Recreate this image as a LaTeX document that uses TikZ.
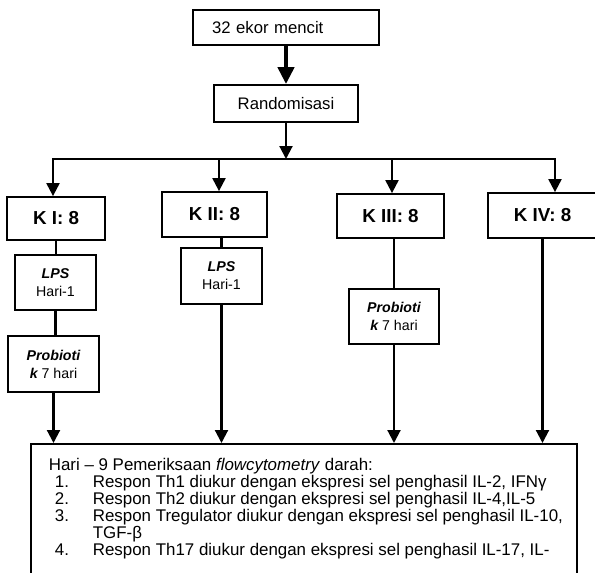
\documentclass[tikz,border=0pt]{standalone}
\usepackage{fontspec}
\setmainfont{Liberation Sans}
\usetikzlibrary{arrows.meta}
\newcommand\fsz[2]{\fontsize{#1}{#2}\selectfont}
\begin{document}
\begin{tikzpicture}[x=1pt,y=-1pt,
  box/.style={draw, line width=1.8pt, inner sep=0pt, align=center},
  conn/.style={line width=2.1pt},
  arr/.style={line width=2.1pt, -{Triangle[width=13pt,length=13pt]}},
  thickarr/.style={line width=4.5pt, -{Triangle[width=16pt,length=17pt]}},
  kbox/.style={box, font=\bfseries\fsz{18.8}{22}},
  sbox/.style={box, font=\fsz{14.2}{18}}]
\path[use as bounding box, clip] (0,0) rectangle (595,573);
\fill[white] (0,0) rectangle (595,573);
% top
\node[box, minimum width=186pt, minimum height=35pt, text width=148pt, inner xsep=19pt, align=left, font=\fsz{16.7}{20}] (top) at (286,27.5) {32 ekor mencit};
\node[box, minimum width=144pt, minimum height=37pt, font=\fsz{16.7}{20}] (rand) at (286,103.5) {Randomisasi};
\draw[thickarr] (top.south) -- (rand.north);
% bar
\coordinate (hub) at (286,159);
\coordinate (b1) at (53,159);
\coordinate (b2) at (219,159);
\coordinate (b3) at (392,159);
\coordinate (b4) at (555,159);
\draw[conn, line cap=rect] (b1) -- (b4);
\draw[arr] (rand.south) -- (hub);
% groups
\node[kbox, minimum width=98pt, minimum height=43pt] (k1) at (56,218.5) {K I: 8};
\node[kbox, minimum width=105pt, minimum height=45pt] (k2) at (214.5,214.5) {K II: 8};
\node[kbox, minimum width=107pt, minimum height=44pt] (k3) at (390.5,216) {K III: 8};
\node[kbox, minimum width=109pt, minimum height=45pt] (k4) at (542.5,215.5) {K IV: 8};
\draw[arr] (b1) -- (b1 |- k1.north);
\draw[arr] (b2) -- (b2 |- k2.north);
\draw[arr] (b3) -- (b3 |- k3.north);
\draw[arr] (b4) -- (b4 |- k4.north);
% treatments
\node[sbox, minimum width=81pt, minimum height=55pt] (lps1) at (55.5,282.5) {{\bfseries\itshape LPS}\\Hari-1};
\node[sbox, minimum width=91pt, minimum height=56pt] (prob1) at (53.5,364) {{\bfseries\itshape Probioti}\\{\bfseries\itshape k} 7 hari};
\node[sbox, minimum width=81pt, minimum height=56pt] (lps2) at (221.5,276) {{\bfseries\itshape LPS}\\Hari-1};
\node[sbox, minimum width=90pt, minimum height=55pt] (prob3) at (394,316.5) {{\bfseries\itshape Probioti}\\{\bfseries\itshape k} 7 hari};
% result box
\node[box, anchor=north west, inner xsep=18pt, inner ysep=0pt, align=left, font=\fsz{16.9}{17.1}] (res) at (30,443) {\parbox[t][157pt][t]{510pt}{\vspace*{14pt}%
\mbox{Hari – 9 Pemeriksaan \textit{flowcytometry} darah:}\\
\mbox{\hspace*{6pt}\makebox[38pt][l]{1.}Respon Th1 diukur dengan ekspresi sel penghasil IL-2, IFNγ}\\
\mbox{\hspace*{6pt}\makebox[38pt][l]{2.}Respon Th2 diukur dengan ekspresi sel penghasil IL-4,IL-5}\\
\mbox{\hspace*{6pt}\makebox[38pt][l]{3.}Respon Tregulator diukur dengan ekspresi sel penghasil IL-10,}\\
\mbox{\hspace*{44pt}TGF-β}\\
\mbox{\hspace*{6pt}\makebox[38pt][l]{4.}Respon Th17 diukur dengan ekspresi sel penghasil IL-17, IL-}}};
% connectors
\draw[conn] (k1.south) -- (k1.south |- lps1.north);
\draw[conn] (lps1.south) -- (lps1.south |- prob1.north);
\draw[arr] (prob1.south) -- (prob1.south |- res.north);
\draw[conn] (lps2.north |- k2.south) -- (lps2.north);
\draw[arr] (lps2.south) -- (lps2.south |- res.north);
\draw[conn] (prob3.north |- k3.south) -- (prob3.north);
\draw[arr] (prob3.south) -- (prob3.south |- res.north);
\draw[arr] (k4.south) -- (k4.south |- res.north);
\end{tikzpicture}
\end{document}
